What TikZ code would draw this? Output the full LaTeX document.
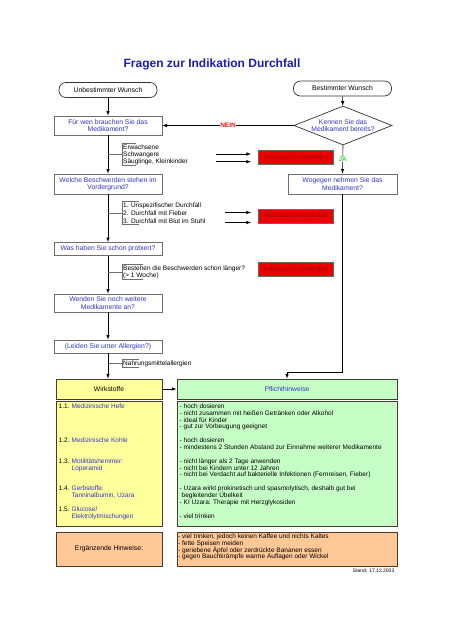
\documentclass[tikz,border=0pt]{standalone}
\usepackage{fontspec}
\setmainfont{Liberation Sans}
\usetikzlibrary{arrows}
\usetikzlibrary{shapes.geometric}
\tikzset{>=latex}
\usepackage{xcolor}
\definecolor{titelblau}{HTML}{1C1CB4}
\definecolor{fragblau}{HTML}{3434C4}
\definecolor{rahmen}{HTML}{6E6E6E}
\definecolor{gelb}{HTML}{FFFF9C}
\definecolor{gruen}{HTML}{C6FFC6}
\definecolor{hinweis}{HTML}{FFC896}
\definecolor{arztrot}{HTML}{EE0000}
\definecolor{arzttext}{HTML}{A00000}
\definecolor{neinrot}{HTML}{E01818}
\definecolor{jagruen}{HTML}{3CDC3C}
\definecolor{braun}{HTML}{4A3A2A}
\newcommand{\klein}{\fontsize{6.5}{6.85}\selectfont}
\newcommand{\mittel}{\fontsize{6.8}{7.3}\selectfont}
\newlength{\zeile}
\setlength{\zeile}{6.85pt}
\tikzstyle{frage}=[draw=rahmen,line width=0.8pt,fill=white,text=fragblau,font=\mittel,align=center,minimum width=108pt,inner sep=1pt]
\tikzstyle{wunsch}=[draw=black!80,line width=0.7pt,rounded corners=7pt,minimum width=98pt,minimum height=15pt,font=\mittel,inner sep=1pt]
\tikzstyle{arzt}=[fill=arztrot,draw=black!60,text=arzttext,font=\klein,minimum width=75pt,minimum height=14pt,inner sep=1pt]
\tikzstyle{liste}=[font=\klein,align=left,anchor=west,inner sep=1pt]
\tikzstyle{klammer}=[draw=rahmen,line width=0.9pt]
\tikzstyle{pfeil}=[->,line width=0.6pt]
\tikzstyle{feld}=[draw=braun,line width=0.9pt]
\tikzstyle{antwort}=[fill=white,font=\fontsize{6.5}{7}\selectfont\bfseries,inner sep=0.6pt]

\begin{document}
\begin{tikzpicture}[x=1pt,y=-1pt]
  \useasboundingbox (0,0) rectangle (452,640);
  \node[font=\fontsize{12}{14}\selectfont\bfseries,text=titelblau] (titel) at (212,64) {Fragen zur Indikation Durchfall};

  % linke Spalte
  \node[wunsch] (unbest) at (108,90) {Unbestimmter Wunsch};
  \node[frage,minimum height=19pt] (fuerwen) at (108,125.5) {Für wen brauchen Sie das\\Medikament?};
  \node[frage,minimum height=20pt] (welche) at (108,184) {Welche Beschwerden stehen im\\Vordergrund?};
  \node[frage,minimum height=13pt] (washaben) at (108,249) {Was haben Sie schon probiert?};
  \node[frage,minimum height=18pt] (wenden) at (108,303) {Wenden Sie noch weitere\\Medikamente an?};
  \node[frage,minimum height=13pt] (leiden) at (108,346.5) {(Leiden Sie unter Allergien?)};

  % rechte Spalte
  \node[wunsch] (best) at (342.5,88.5) {Bestimmter Wunsch};
  \node[diamond,draw=black!80,line width=0.7pt,fill=white,aspect=2.5,inner sep=0pt,minimum width=98pt,minimum height=39pt,text=fragblau,font=\mittel,align=center] (kennen) at (343,125.5) {Kennen Sie das\\Medikament bereits?};
  \node[frage,minimum height=20pt,minimum width=109pt] (wogegen) at (342.5,184) {Wogegen nehmen Sie das\\Medikament?};

  \draw[pfeil] (unbest) -- (fuerwen);
  \draw[pfeil] (fuerwen) -- (welche);
  \draw[pfeil] (welche) -- (washaben);
  \draw[pfeil] (washaben) -- (wenden);
  \draw[pfeil] (wenden) -- (leiden);
  \draw[pfeil] (best) -- (kennen);
  \draw[pfeil] (kennen.west) -- node[antwort,text=neinrot] {NEIN} (fuerwen.east);
  \draw[pfeil] (kennen.south) -- node[antwort,text=jagruen] {JA} (wogegen.north);

  % Listen mit Klammern
  \node[liste] (l1) at (122,154.5) {Erwachsene\\Schwangere\\Säuglinge, Kleinkinder};
  \node[liste,font=\fontsize{6.5}{7.8}\selectfont] (l2) at (122,213) {1. Unspezifischer Durchfall\\2. Durchfall mit Fieber\\3. Durchfall mit Blut im Stuhl};
  \node[liste] (l3) at (122,272) {Bestehen die Beschwerden schon länger?\\(> 1 Woche)};
  \node[liste] (l4) at (122,363.5) {Nahrungsmittelallergien};
  \draw[klammer] ([xshift=14pt]l1.north west) -- (l1.north west) -- (l1.south west) -- ++(14,0);
  \draw[klammer] ([xshift=17pt]l2.north west) -- (l2.north west) -- (l2.south west) -- ++(17,0);
  \draw[klammer] ([xshift=21pt]l3.north west) -- (l3.north west) -- (l3.south west) -- ++(21,0);
  \draw[klammer] ([xshift=17pt]l4.north west) -- (l4.north west) -- (l4.south west) -- ++(17,0);
  \draw[klammer] (fuerwen.south |- l1.west) -- (l1.west);
  \draw[klammer] (welche.south |- l2.west) -- (l2.west);
  \draw[klammer] (washaben.south |- l3.west) -- (l3.west);
  \draw[klammer] (leiden.south |- l4.west) -- (l4.west);

  % Arztbesuch
  \node[arzt] (arzt1) at (296,157.5) {Arztbesuch empfohlen};
  \node[arzt] (arzt2) at (295.5,216) {Arztbesuch empfohlen};
  \node[arzt] (arzt3) at (295.5,269.5) {Arztbesuch empfohlen};
  \coordinate (a1) at (216,154);   \coordinate (b1) at (251,154);
  \coordinate (a2) at (216,161.7); \coordinate (b2) at (251,161.7);
  \coordinate (a3) at (225,212.5); \coordinate (b3) at (251,212.5);
  \coordinate (a4) at (225,222.5); \coordinate (b4) at (251,222.5);
  \draw[pfeil] (a1) -- (b1);
  \draw[pfeil] (a2) -- (b2);
  \draw[pfeil] (a3) -- (b3);
  \draw[pfeil] (a4) -- (b4);

  % Wirkstoffe und Hinweise
  \node[feld,fill=gelb,minimum width=106pt,minimum height=20pt,font=\mittel] (wirk) at (109,389) {Wirkstoffe};
  \node[feld,fill=gruen,minimum width=220pt,minimum height=20pt,font=\mittel,text=fragblau] (pflicht) at (287,389) {Pflichthinweise};
  \draw[pfeil] (leiden) -- (leiden |- wirk.north);
  \draw[pfeil] (wirk) -- (pflicht);
  \draw[pfeil] (wogegen.south) -- ++(0,178) -| (pflicht.north);

  \node[feld,fill=gelb,minimum width=106pt,minimum height=125pt] (wirkfeld) at (109,463.5) {};
  \node[feld,fill=gruen,minimum width=220pt,minimum height=125pt] (pflichtfeld) at (287,463.5) {};
  \node[liste,anchor=north west] (wirkliste) at (57.5,402.5) {%
    \makebox[13pt][l]{1.1.}\textcolor{fragblau}{Medizinische Hefe}\\[4\zeile]
    \makebox[13pt][l]{1.2.}\textcolor{fragblau}{Medizinische Kohle}\\[2\zeile]
    \makebox[13pt][l]{1.3.}\textcolor{fragblau}{Motilitätshemmer:}\\
    \hspace*{13pt}\textcolor{fragblau}{Loperamid}\\[2\zeile]
    \makebox[13pt][l]{1.4.}\textcolor{fragblau}{Gerbstoffe:}\\
    \hspace*{13pt}\textcolor{fragblau}{Tanninalbumin, Uzara}\\[1\zeile]
    \makebox[13pt][l]{1.5.}\textcolor{fragblau}{Glucose/}\\
    \hspace*{13pt}\textcolor{fragblau}{Elektrolytmischungen}};
  \node[liste,anchor=north west] (pflichtliste) at (178.5,402.5) {%
    - hoch dosieren\\
    - nicht zusammen mit heißen Getränken oder Alkohol\\
    - ideal für Kinder\\
    - gut zur Vorbeugung geeignet\\[1\zeile]
    - hoch dosieren\\
    - mindestens 2 Stunden Abstand zur Einnahme weiterer Medikamente\\[1\zeile]
    - nicht länger als 2 Tage anwenden\\
    - nicht bei Kindern unter 12 Jahren\\
    - nicht bei Verdacht auf bakterielle Infektionen (Fernreisen, Fieber)\\[1\zeile]
    - Uzara wirkt prokinetisch und spasmolytisch, deshalb gut bei\\
    \hspace*{2pt}begleitender Übelkeit\\
    - KI Uzara: Therapie mit Herzglykosiden\\[1\zeile]
    - viel trinken};

  \node[feld,fill=hinweis,minimum width=106pt,minimum height=34pt,font=\mittel] (erg) at (109,549) {Ergänzende Hinweise:};
  \node[feld,fill=hinweis,minimum width=220pt,minimum height=34pt] (ergfeld) at (287,549) {};
  \node[liste,anchor=north west,inner sep=0.5pt] (ergliste) at (177.5,533) {%
    - viel trinken, jedoch keinen Kaffee und nichts Kaltes\\
    - fette Speisen meiden\\
    - geriebene Äpfel oder zerdrückte Bananen essen\\
    - gegen Bauchkrämpfe warme Auflagen oder Wickel};
  \node[font=\fontsize{5}{6}\selectfont,anchor=east,inner sep=0pt] (stand) at (394.5,571) {Stand: 17.12.2003};
\end{tikzpicture}
\end{document}
